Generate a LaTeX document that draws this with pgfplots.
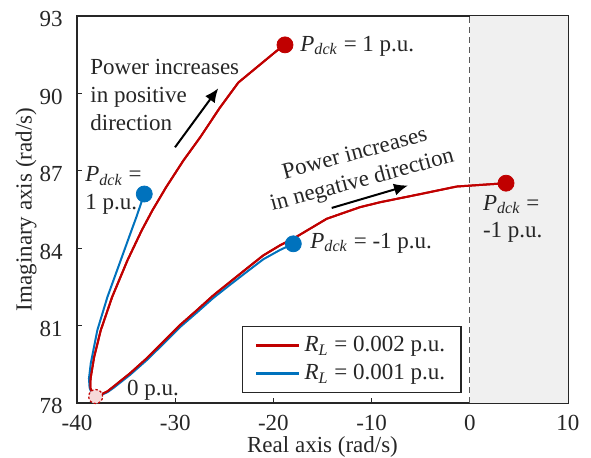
\documentclass[border=0pt]{standalone}
\usepackage{pgfplots}
\pgfplotsset{compat=1.18}
\usepackage{fontspec}
\setmainfont{Liberation Serif}
\usetikzlibrary{arrows.meta}

\definecolor{rlred}{HTML}{C00000}
\definecolor{rlblue}{HTML}{0072BD}
\definecolor{axgray}{HTML}{262626}
\definecolor{regiongray}{HTML}{F0F0F0}

\newcommand{\Pdck}{\textit{P}\textsubscript{\textit{dck}}}
\newcommand{\RL}{\textit{R}\textsubscript{\textit{L}}}

% Root locus, R_L = 0.002 p.u.: from P_dck = 1 p.u. down to 0 p.u. and on to -1 p.u.
\pgfplotstableread{
x y
-18.82 91.88
-19.66 91.65
-23.57 90.42
-25.44 89.45
-27.47 88.29
-29.18 87.39
-30.93 86.36
-32.33 85.46
-33.41 84.69
-34.86 83.53
-36.42 82.11
-37.58 80.82
-38.25 79.79
-38.62 78.95
-38.65 78.60
-38.45 78.38
-38.10 78.28
-37.60 78.32
-36.90 78.45
-36.30 78.63
-34.60 79.15
-32.90 79.73
-31.21 80.37
-29.51 81.02
-27.81 81.59
-26.12 82.17
-24.42 82.69
-22.72 83.21
-21.03 83.72
-19.33 84.11
-17.97 84.37
-14.57 85.14
-11.18 85.59
-9.14 85.78
-5.00 86.10
-1.33 86.39
3.69 86.52
}\redlocus

% Root locus, R_L = 0.001 p.u.
\pgfplotstableread{
x y
-33.15 86.10
-33.96 85.20
-34.45 84.69
-35.55 83.53
-36.90 82.11
-37.93 80.82
-38.60 79.53
-38.78 78.95
-38.72 78.60
-38.50 78.37
-38.10 78.27
-37.60 78.30
-36.90 78.42
-36.30 78.58
-34.60 79.09
-32.90 79.66
-31.21 80.29
-29.51 80.94
-27.81 81.50
-26.12 82.07
-24.42 82.58
-22.72 83.08
-21.03 83.57
-19.33 83.93
-17.97 84.17
}\bluelocus

\begin{document}
\begin{tikzpicture}
\useasboundingbox (-38.5pt,-27.5pt) rectangle (257pt,201.5pt);
\begin{axis}[
  at={(0,0)}, anchor=south west,
  scale only axis, width=245.5pt, height=193.5pt,
  xmin=-40, xmax=10, ymin=78, ymax=93,
  xtick={-40,-30,-20,-10,0,10},
  ytick={78,81,84,87,90,93},
  tick align=inside, xtick pos=left, ytick pos=left,
  major tick length=2.5pt,
  axis line style={axgray, line width=0.6pt},
  tick style={axgray, line width=0.6pt},
  font=\fontsize{11.5}{13.8}\selectfont,
  /pgf/number format/assume math mode=true,
  xticklabel={\pgfmathprintnumber{\tick}},
  yticklabel={\pgfmathprintnumber{\tick}},
  xticklabel style={inner sep=0pt, yshift=-5.8pt, text=axgray},
  yticklabel style={inner sep=0pt, xshift=-7pt, yshift=-1.7pt, text=axgray},
  xlabel={Real axis (rad/s)},
  ylabel={Imaginary axis (rad/s)},
  xlabel style={at={(axis description cs:0.5,0)}, anchor=north, inner sep=0pt, yshift=-16.5pt, text=axgray},
  ylabel style={at={(axis description cs:-0.0815,0.5)}, anchor=south, inner sep=0pt, text=axgray},
  legend style={at={(axis description cs:0.7835,0.025)}, anchor=south east,
    draw=axgray, line width=0.6pt, fill=white, text=axgray,
    font=\fontsize{11.5}{13.8}\selectfont,
    inner xsep=6pt, inner ysep=3pt, row sep=1pt},
  legend cell align=left,
  legend image code/.code={\draw[#1, line width=1.5pt] (0,0) -- (21.5pt,0);},
]
% unstable half-plane
\fill[regiongray] (axis cs:0,78) rectangle (axis cs:10,93);
\draw[color=black!65, line width=0.6pt, dash pattern=on 3pt off 2pt] (axis cs:0,78) -- (axis cs:0,93);

\addplot[rlred, line width=1pt, line join=round] table {\redlocus};
\addlegendentry{\RL{} = 0.002 p.u.}
\addplot[rlblue, line width=1pt, line join=round] table {\bluelocus};
\addlegendentry{\RL{} = 0.001 p.u.}
% red drawn again so it sits above the blue trace where they overlap
\addplot[rlred, line width=1pt, line join=round, forget plot] table {\redlocus};

% end points of the loci
\addplot[only marks, mark=*, mark size=4pt, color=rlred, forget plot] coordinates {(-18.82,91.88) (3.69,86.52)};
\addplot[only marks, mark=*, mark size=4pt, color=rlblue, forget plot] coordinates {(-33.15,86.10) (-17.97,84.17)};
% P_dck = 0 p.u. operating point
\addplot[only marks, mark=*, mark size=3.5pt, forget plot,
  mark options={draw=rlred, fill=rlred!15, line width=0.6pt, dash pattern=on 1.2pt off 1pt}] coordinates {(-38.10,78.25)};

% annotations
\node[anchor=west, inner sep=0pt, text=axgray] at (axis cs:-17.29,91.84) {\Pdck{} = 1 p.u.};
\node[anchor=west, inner sep=0pt, align=left, text=axgray] at (axis cs:-38.68,89.94) {Power increases\\in positive\\direction};
\draw[-{Latex[length=7pt,width=6pt]}, line width=1pt] (axis cs:-30.02,87.91) -- (axis cs:-25.61,90.20);
\node[anchor=west, inner sep=0pt, align=left, text=axgray] at (axis cs:-39.19,86.23) {\Pdck{} =\\1 p.u.};
\node[inner sep=0pt, align=center, rotate=15, text=axgray] at (axis cs:-11.31,87.10) {Power increases\\in negative direction};
\draw[-{Latex[length=7pt,width=6pt]}, line width=1pt] (axis cs:-14.06,85.56) -- (axis cs:-6.29,86.43);
\node[anchor=west, inner sep=0pt, text=axgray] at (axis cs:-16.27,84.20) {\Pdck{} = -1 p.u.};
\node[anchor=west, inner sep=0pt, align=left, text=axgray] at (axis cs:1.31,85.14) {\Pdck{} =\\-1 p.u.};
\node[anchor=west, inner sep=0pt, text=axgray] at (axis cs:-34.94,78.50) {0 p.u.};
\end{axis}
\end{tikzpicture}
\end{document}
